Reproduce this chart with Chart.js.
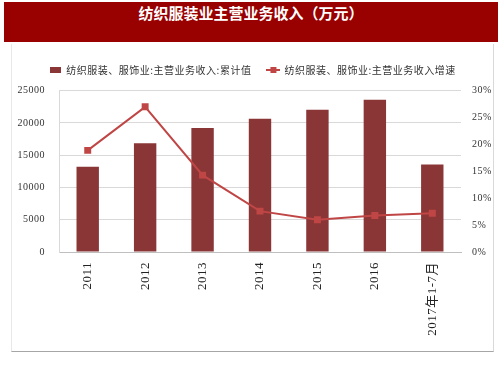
<!DOCTYPE html>
<html>
<head>
<meta charset="utf-8">
<script src="https://cdn.jsdelivr.net/npm/chart.js@4/dist/chart.umd.min.js"></script>
<style>
  body { margin: 0; background: #fff; width: 503px; height: 378px; overflow: hidden; }
  #titleBar {
    position: absolute; left: 4px; top: 2px; width: 494px; height: 40px;
    background: #990000; color: #fff; text-align: center; line-height: 40px;
    font: bold 15px "Noto Sans CJK SC", sans-serif;
  }
  #panel {
    position: absolute; left: 11px; top: 44px; width: 481px; height: 307px;
    border-left: 1px solid #e8e8e8; border-right: 1px solid #d9d9d9; border-bottom: 1px solid #a6a6a6;
    overflow: hidden;
  }
  #chart { position: absolute; left: 0; top: 0; }
</style>
</head>
<body>
<div id="titleBar">纺织服装业主营业务收入（万元）</div>
<div id="panel"><canvas id="chart" width="481" height="307"></canvas></div>
<script>
// 数据
const categories = ['2011', '2012', '2013', '2014', '2015', '2016', '2017年1-7月'];
const revenue = [13200, 16850, 19200, 20650, 22050, 23600, 13570];
const growth = [18.9, 27.0, 14.3, 7.6, 6.0, 6.8, 7.2];
const revenueTicks = [0, 25000, 5000];
const growthTicks = [0, 30, 5];

const barColor = '#8B3636';
const lineColor = '#C04646';

// legend icons
function makeIcon(w, h, draw) {
    const c = document.createElement('canvas');
    c.width = w; c.height = h;
    draw(c.getContext('2d'));
    return c;
}
const barIcon = makeIcon(11, 6, ctx => { ctx.fillStyle = barColor; ctx.fillRect(0, 0, 11, 6); });
const lineIcon = makeIcon(14, 8, ctx => {
    ctx.fillStyle = lineColor;
    ctx.fillRect(0, 3, 14, 2);
    ctx.fillRect(4, 1, 6, 6);
});
const icons = [barIcon, lineIcon];

const spacingPlugin = {
    id: 'spacing',
    beforeLayout(chart) { chart.ctx.letterSpacing = '0.5px'; },
    beforeDraw(chart) { chart.ctx.letterSpacing = '0.5px'; }
};

const serif = '"Liberation Serif", "Noto Sans CJK SC", serif';

new Chart(document.getElementById('chart').getContext('2d'), {
    type: 'bar',
    data: {
        labels: categories,
        datasets: [
            {
                label: '纺织服装、服饰业:主营业务收入:累计值',
                data: revenue,
                backgroundColor: barColor,
                categoryPercentage: 1,
                barPercentage: 0.39,
                yAxisID: 'y',
                order: 1
            },
            {
                type: 'line',
                label: '纺织服装、服饰业:主营业务收入增速',
                data: growth,
                borderColor: lineColor,
                backgroundColor: lineColor,
                borderWidth: 2,
                pointStyle: 'rect',
                pointRadius: 3.5,
                pointBackgroundColor: lineColor,
                tension: 0,
                yAxisID: 'y1',
                order: 0
            }
        ]
    },
    options: {
        responsive: false,
        animation: false,
        layout: { padding: { top: 5, left: 0, right: 0, bottom: 0 } },
        plugins: {
            tooltip: { enabled: false },
            // empty spacer between legend and plot
            title: {
                display: true,
                text: ' ',
                weight: 500,
                font: { size: 1, lineHeight: 1 },
                padding: { top: 0, bottom: 4.7 }
            },
            legend: {
                position: 'top',
                weight: 2500,
                labels: {
                    usePointStyle: true,
                    pointStyleWidth: 12,
                    padding: 16,
                    color: '#333',
                    font: { family: '"Noto Sans CJK SC", sans-serif', size: 10 },
                    generateLabels(chart) {
                        const items = Chart.defaults.plugins.legend.labels.generateLabels(chart);
                        items.forEach(it => { it.pointStyle = icons[it.datasetIndex]; });
                        return items.sort((a, b) => a.datasetIndex - b.datasetIndex);
                    }
                }
            }
        },
        scales: {
            x: {
                grid: { display: false, drawTicks: false },
                border: { color: '#bfbfbf' },
                ticks: {
                    color: '#222',
                    minRotation: 90, maxRotation: 90,
                    padding: 10,
                    font: { family: serif, size: 13 }
                },
                afterFit(scale) { scale.height = 99; }
            },
            y: {
                position: 'left',
                min: revenueTicks[0], max: revenueTicks[1],
                grid: { color: '#d9d9d9', drawTicks: false },
                border: { color: '#d9d9d9' },
                ticks: {
                    stepSize: revenueTicks[2],
                    padding: 14,
                    color: '#333',
                    font: { family: serif, size: 10 },
                    callback: v => String(v)
                },
                afterFit(scale) { scale.width = 47; }
            },
            y1: {
                position: 'right',
                min: growthTicks[0], max: growthTicks[1],
                grid: { display: false, drawTicks: false },
                border: { display: false },
                ticks: {
                    stepSize: growthTicks[2],
                    padding: 11,
                    color: '#333',
                    font: { family: serif, size: 10 },
                    callback: v => v + '%'
                },
                afterFit(scale) { scale.width = 32; }
            }
        }
    },
    plugins: [spacingPlugin]
});
</script>
</body>
</html>
